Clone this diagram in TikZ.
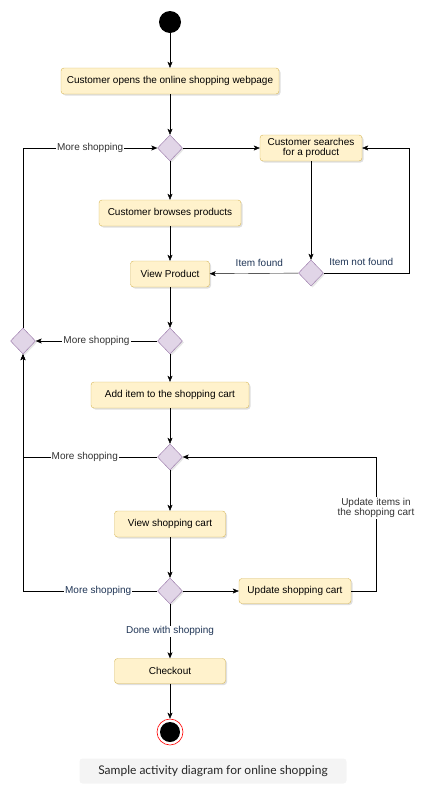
\documentclass[tikz,border=0pt]{standalone}
\usepackage{fontspec}
\setmainfont{Liberation Sans}
\newfontfamily\capfont{Lato}
\usetikzlibrary{shapes.geometric,arrows.meta,shadows}
\definecolor{actfill}{HTML}{FFF2CC}
\definecolor{actline}{HTML}{D6B656}
\definecolor{decfill}{HTML}{E1D5E7}
\definecolor{decline}{HTML}{9673A6}
\definecolor{lblblue}{HTML}{1F3556}
\definecolor{capgray}{HTML}{F4F4F4}

\begin{document}
\begin{tikzpicture}
  [x=1pt,y=-1pt,font=\fontsize{10}{12}\selectfont,
   act/.style={rectangle,rounded corners=3pt,draw=actline,fill=actfill,minimum height=26pt,align=center,
     drop shadow={shadow xshift=1.5pt,shadow yshift=-1.5pt,opacity=.25}},
   dec/.style={diamond,draw=decline,fill=decfill,minimum width=25pt,minimum height=26pt,inner sep=0pt,
     drop shadow={shadow xshift=1.5pt,shadow yshift=-1.5pt,opacity=.2}},
   arr/.style={draw,-{Stealth[length=6pt,width=5pt,inset=1.5pt]}},
   lbl/.style={fill=white,inner sep=1pt,text=black!80},
   blbl/.style={lbl,text=lblblue}]
  \useasboundingbox (0,0) rectangle (434,793);

  \node (start) [circle,fill=black,minimum size=22pt,inner sep=0pt] at (170,22) {};
  \node (open) [act,node distance=59pt,below of=start,minimum width=218pt] {Customer opens the online shopping webpage};
  \node (d1) [dec,node distance=67pt,below of=open] {};
  \node (search) [act,node distance=141pt,right of=d1,minimum width=102pt] {Customer searches\\[-2pt]for a product};
  \node (browse) [act,node distance=65pt,below of=d1,minimum width=142pt] {Customer browses products};
  \node (view) [act,node distance=61pt,below of=browse,minimum width=79pt] {View Product};
  \node (dfound) [dec,node distance=125pt,below of=search] {};
  \node (d2) [dec,node distance=67pt,below of=view] {};
  \node (dl) [dec,node distance=147pt,left of=d2] {};
  \node (add) [act,node distance=54pt,below of=d2,minimum width=158pt] {Add item to the shopping cart};
  \node (d3) [dec,node distance=62pt,below of=add] {};
  \node (cart) [act,node distance=67pt,below of=d3,minimum width=111pt] {View shopping cart};
  \node (d4) [dec,node distance=67pt,below of=cart] {};
  \node (update) [act,node distance=125pt,right of=d4,minimum width=112pt,minimum height=25pt] {Update shopping cart};
  \node (checkout) [act,node distance=80pt,below of=d4,minimum width=111pt,minimum height=25pt] {Checkout};
  \node (finish) [circle,draw=red,fill=white,line width=.6pt,minimum size=26pt,inner sep=0pt,node distance=61pt,below of=checkout,
    path picture={\fill[black] (path picture bounding box.center) circle (10pt);}] {};

  \coordinate (nfturn) at (409,148);
  \coordinate (updturn) at (376,457);

\foreach \from/\to in
{start/open, open/d1, d1/search, d1/browse, browse/view, search/dfound, view/d2, d2/add, add/d3, d3/cart, cart/d4, d4/update, checkout/finish}
    \draw[arr] (\from) -- (\to);

  \draw[arr] (dfound) -- node[blbl,fill=none,pos=.44,above=6pt] (found) {Item found} (view);
  \draw[arr] (dfound.east) -| node[blbl,fill=none,pos=.22,above=6pt] (notfound) {Item not found} (nfturn) -- (search.east);
  \draw[arr] (d2) -- node[lbl] (more2) {More shopping} (dl);
  \draw[arr] (dl.north) |- node[lbl,pos=.75] (more1) {More shopping} (d1.west);
  \draw[arr] (d3.west) -| node[lbl,pos=.27] (more3) {More shopping} (dl.south);
  \draw[arr] (d4.west) -| node[blbl,pos=.22] (more4) {More shopping} (dl.south);
  \draw[arr] (update.east) -| node[lbl,pos=.81,align=center] (updlbl) {Update items in\\[-2pt]the shopping cart} (updturn) -- (d3.east);
  \draw[arr] (d4) -- node[blbl] (done) {Done with shopping} (checkout);

  \node (caption) [fill=capgray,rounded corners=3pt,minimum width=267pt,minimum height=25pt,text=black!85,
    font=\capfont\fontsize{12}{14}\selectfont] at (213,771) {Sample activity diagram for online shopping};
\end{tikzpicture}
\end{document}
